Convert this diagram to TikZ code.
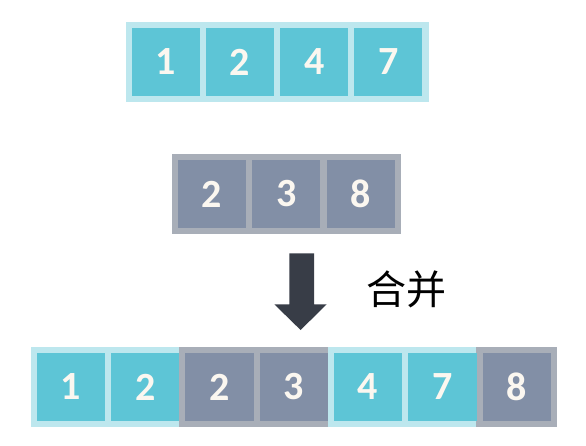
\documentclass[tikz,border=0pt]{standalone}
\usepackage{fontspec}
\setsansfont{Carlito}
\newfontfamily\cjk{Noto Sans CJK SC}
\usetikzlibrary{calc,backgrounds}
\definecolor{cellc}{HTML}{5DC5D6}
\definecolor{bandc}{HTML}{BDE7EE}
\definecolor{cellg}{HTML}{828FA6}
\definecolor{bandg}{HTML}{A8AEB8}
\definecolor{numc}{HTML}{FBF7F0}
\definecolor{arrowc}{HTML}{383D47}
\begin{document}
\begin{tikzpicture}[x=1pt,y=-1pt,
  cell/.style={minimum width=68.3pt,minimum height=68.3pt,inner sep=0pt,text=numc,
    font=\sffamily\bfseries\fontsize{40}{40}\selectfont},
  ccell/.style={cell,fill=cellc},
  gcell/.style={cell,fill=cellg}]
\useasboundingbox (0,0) rectangle (586,446);
% top row
\node[ccell] (t1) at (165.9,61.9) {1};
\node[ccell] (t2) at (240.1,61.9) {2};
\node[ccell] (t3) at (314.2,61.9) {4};
\node[ccell] (t4) at (388.3,61.9) {7};
% middle row
\node[gcell] (m1) at (211.9,193.9) {2};
\node[gcell] (m2) at (286.3,193.9) {3};
\node[gcell] (m3) at (361.0,193.9) {8};
% bottom row
\node[ccell] (b1) at (70.9,386.9) {1};
\node[ccell] (b2) at (145.2,386.9) {2};
\node[gcell] (b3) at (219.5,386.9) {2};
\node[gcell] (b4) at (293.8,386.9) {3};
\node[ccell] (b5) at (368.1,386.9) {4};
\node[ccell] (b6) at (442.4,386.9) {7};
\node[gcell] (b7) at (516.7,386.9) {8};
\begin{pgfonlayer}{background}
  \fill[white] (0,0) rectangle (586,446);
  \fill[bandc] ($(t1.north west)+(-6,-6)$) rectangle ($(t4.south east)+(6,6)$);
  \fill[bandg] ($(m1.north west)+(-6,-6)$) rectangle ($(m3.south east)+(6,6)$);
  \fill[bandc] ($(b1.north west)+(-6,-6)$) rectangle ($(b2.south east)+(6,6)$);
  \fill[bandg] ($(b3.north west)+(-6,-6)$) rectangle ($(b4.south east)+(6,6)$);
  \fill[bandc] ($(b5.north west)+(-6,-6)$) rectangle ($(b6.south east)+(6,6)$);
  \fill[bandg] ($(b7.north west)+(-6,-6)$) rectangle ($(b7.south east)+(6,6)$);
\end{pgfonlayer}
% arrow
\fill[arrowc] (289.3,253.3) -- (314,253.3) -- (314,304.3) -- (326.7,304.3)
  -- (300.6,330) -- (274.3,304.3) -- (289.3,304.3) -- cycle;
\node[font=\cjk\fontsize{40}{40}\selectfont,inner sep=0pt] (merge) at (406.5,289) {合并};
\end{tikzpicture}
\end{document}
